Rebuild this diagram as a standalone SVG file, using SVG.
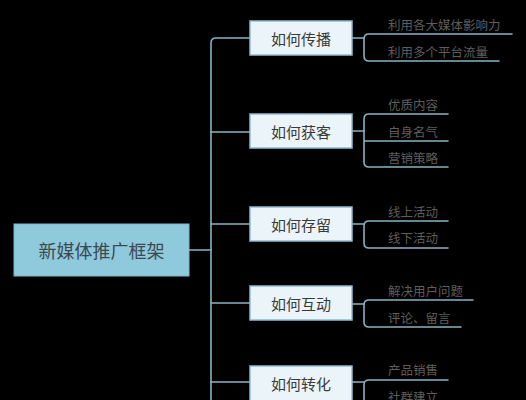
<svg xmlns="http://www.w3.org/2000/svg" width="526" height="400" viewBox="0 0 526 400">
<style>
.bg{fill:#000}
.root{fill:#8fc9dc;stroke:#7fb6c9;stroke-width:1}
.node{fill:#eaf4f9;stroke:#8ebdd0;stroke-width:1.5}
.ln{fill:none;stroke:#86b2c2;stroke-width:1.6;stroke-linecap:round}
text{font-family:"Noto Sans CJK SC","Noto Sans",sans-serif;dominant-baseline:central}
.rt{font-size:18px;fill:#3c4a50;text-anchor:middle}
.nt{font-size:15px;fill:#3a3a3a;text-anchor:middle}
.lt{font-size:12.5px;fill:#5e5e5e}
</style>
<rect class="bg" x="0" y="0" width="526" height="400"/>
<g id="connectors">
<path class="ln" d="M189,250 H211"/>
<path class="ln" d="M250,38 H216 Q211,38 211,43 V402"/>
<path class="ln" d="M211,132 H250 M211,224 H250 M211,303 H250 M211,382 H250"/>
<path class="ln" d="M352,38 H364"/>
<path class="ln" d="M512,34 H369 Q364,34 364,39 V56 Q364,61 369,61 H499"/>
<path class="ln" d="M352,131 H364"/>
<path class="ln" d="M448,114 H369 Q364,114 364,119 V162 Q364,167 369,167 H448 M364,141 H448"/>
<path class="ln" d="M352,224 H364"/>
<path class="ln" d="M448,221 H369 Q364,221 364,226 V243 Q364,248 369,248 H448"/>
<path class="ln" d="M352,304 H364"/>
<path class="ln" d="M473,300 H369 Q364,300 364,305 V322 Q364,327 369,327 H461"/>
<path class="ln" d="M352,382 H364"/>
<path class="ln" d="M448,380 H369 Q364,380 364,385 V402"/>
</g>
<g id="root">
<rect class="root" x="14" y="224" width="175" height="52"/>
<text class="rt" x="101.5" y="250">新媒体推广框架</text>
</g>
<g id="n1">
<rect class="node" x="250" y="21" width="102" height="34"/>
<text class="nt" x="301" y="38">如何传播</text>
</g>
<g id="n2">
<rect class="node" x="250" y="114" width="102" height="34"/>
<text class="nt" x="301" y="131">如何获客</text>
</g>
<g id="n3">
<rect class="node" x="250" y="207" width="102" height="34"/>
<text class="nt" x="301" y="224">如何存留</text>
</g>
<g id="n4">
<rect class="node" x="250" y="286" width="102" height="34"/>
<text class="nt" x="301" y="303">如何互动</text>
</g>
<g id="n5">
<rect class="node" x="250" y="366" width="102" height="40"/>
<text class="nt" x="301" y="383">如何转化</text>
</g>
<g id="leaves">
<text class="lt" x="388" y="24">利用各大媒体影响力</text>
<text class="lt" x="388" y="51">利用多个平台流量</text>
<text class="lt" x="388" y="104">优质内容</text>
<text class="lt" x="388" y="131">自身名气</text>
<text class="lt" x="388" y="157">营销策略</text>
<text class="lt" x="388" y="211">线上活动</text>
<text class="lt" x="388" y="237">线下活动</text>
<text class="lt" x="388" y="290">解决用户问题</text>
<text class="lt" x="388" y="317">评论、留言</text>
<text class="lt" x="388" y="369">产品销售</text>
<text class="lt" x="388" y="396">社群建立</text>
</g>
</svg>
